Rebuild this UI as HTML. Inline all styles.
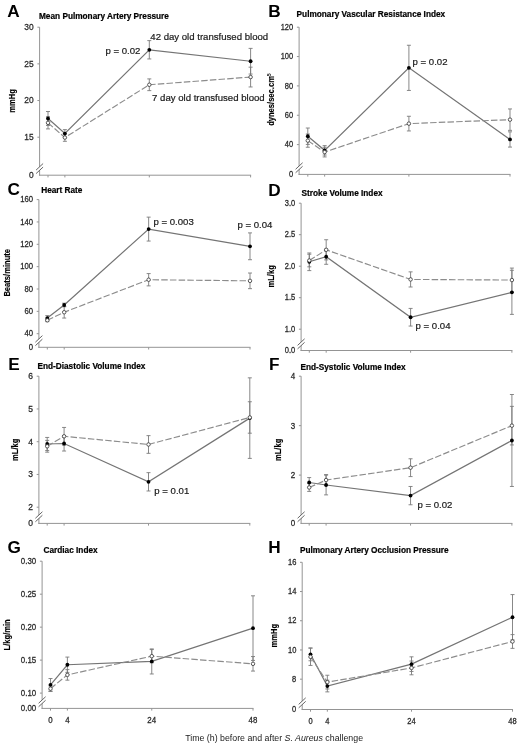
<!DOCTYPE html>
<html><head><meta charset="utf-8"><title>Figure</title>
<style>
html,body{margin:0;padding:0;background:#fff;}
body{width:520px;height:746px;overflow:hidden;}
svg{display:block;font-family:"Liberation Sans", sans-serif;will-change:transform;}
</style></head>
<body>
<svg width="520" height="746" viewBox="0 0 520 746">
<rect width="520" height="746" fill="#fff"/>
<g>
<text x="7.3" y="17.1" font-size="17.2" font-weight="bold" fill="#000">A</text>
<text x="39" y="18.5" font-size="8.25" font-weight="bold" fill="#000" stroke="#000" stroke-width="0.2">Mean Pulmonary Artery Pressure</text>
<text transform="translate(14.5,101) rotate(-90) scale(1,1.15)" text-anchor="middle" font-size="7.6" font-weight="bold" fill="#000" stroke="#000" stroke-width="0.12">mmHg</text>
<line x1="39.6" y1="27.2" x2="39.6" y2="175.7" stroke="#949494" stroke-width="1"/>
<line x1="39.1" y1="175.2" x2="251.1" y2="175.2" stroke="#949494" stroke-width="1"/>
<line x1="37.4" y1="27.2" x2="39.6" y2="27.2" stroke="#949494" stroke-width="1"/>
<text transform="translate(33.7,29.93) scale(1,1.04)" font-size="8.4" text-anchor="end" fill="#2a2a2a" stroke="#2a2a2a" stroke-width="0.25">30</text>
<line x1="37.4" y1="63.86" x2="39.6" y2="63.86" stroke="#949494" stroke-width="1"/>
<text transform="translate(33.7,66.59) scale(1,1.04)" font-size="8.4" text-anchor="end" fill="#2a2a2a" stroke="#2a2a2a" stroke-width="0.25">25</text>
<line x1="37.4" y1="100.53" x2="39.6" y2="100.53" stroke="#949494" stroke-width="1"/>
<text transform="translate(33.7,103.26) scale(1,1.04)" font-size="8.4" text-anchor="end" fill="#2a2a2a" stroke="#2a2a2a" stroke-width="0.25">20</text>
<line x1="37.4" y1="137.19" x2="39.6" y2="137.19" stroke="#949494" stroke-width="1"/>
<text transform="translate(33.7,139.92) scale(1,1.04)" font-size="8.4" text-anchor="end" fill="#2a2a2a" stroke="#2a2a2a" stroke-width="0.25">15</text>
<text transform="translate(33.7,178.03) scale(1,1.04)" font-size="8.4" text-anchor="end" fill="#2a2a2a" stroke="#2a2a2a" stroke-width="0.25">0</text>
<line x1="48" y1="175.2" x2="48" y2="177.4" stroke="#949494" stroke-width="1"/>
<line x1="64.88" y1="175.2" x2="64.88" y2="177.4" stroke="#949494" stroke-width="1"/>
<line x1="149.3" y1="175.2" x2="149.3" y2="177.4" stroke="#949494" stroke-width="1"/>
<line x1="250.6" y1="175.2" x2="250.6" y2="177.4" stroke="#949494" stroke-width="1"/>
<polygon points="36.1,170.05 43.1,163.55 43.1,167.05 36.1,173.55" fill="#fff"/>
<line x1="36.1" y1="170.05" x2="43.1" y2="163.55" stroke="#555" stroke-width="0.9"/>
<line x1="36.1" y1="173.55" x2="43.1" y2="167.05" stroke="#555" stroke-width="0.9"/>
<line x1="48" y1="111.53" x2="48" y2="125.46" stroke="#7a7a7a" stroke-width="0.9"/>
<line x1="46" y1="111.53" x2="50" y2="111.53" stroke="#7a7a7a" stroke-width="0.9"/>
<line x1="46" y1="125.46" x2="50" y2="125.46" stroke="#7a7a7a" stroke-width="0.9"/>
<line x1="64.88" y1="129.64" x2="64.88" y2="137.41" stroke="#7a7a7a" stroke-width="0.9"/>
<line x1="62.88" y1="129.64" x2="66.88" y2="129.64" stroke="#7a7a7a" stroke-width="0.9"/>
<line x1="62.88" y1="137.41" x2="66.88" y2="137.41" stroke="#7a7a7a" stroke-width="0.9"/>
<line x1="149.3" y1="40.62" x2="149.3" y2="58.95" stroke="#7a7a7a" stroke-width="0.9"/>
<line x1="147.3" y1="40.62" x2="151.3" y2="40.62" stroke="#7a7a7a" stroke-width="0.9"/>
<line x1="147.3" y1="58.95" x2="151.3" y2="58.95" stroke="#7a7a7a" stroke-width="0.9"/>
<line x1="250.6" y1="48.39" x2="250.6" y2="74.06" stroke="#7a7a7a" stroke-width="0.9"/>
<line x1="248.6" y1="48.39" x2="252.6" y2="48.39" stroke="#7a7a7a" stroke-width="0.9"/>
<line x1="248.6" y1="74.06" x2="252.6" y2="74.06" stroke="#7a7a7a" stroke-width="0.9"/>
<line x1="48" y1="116.74" x2="48" y2="128.91" stroke="#7a7a7a" stroke-width="0.9"/>
<line x1="46" y1="116.74" x2="50" y2="116.74" stroke="#7a7a7a" stroke-width="0.9"/>
<line x1="46" y1="128.91" x2="50" y2="128.91" stroke="#7a7a7a" stroke-width="0.9"/>
<line x1="64.88" y1="133.82" x2="64.88" y2="141.3" stroke="#7a7a7a" stroke-width="0.9"/>
<line x1="62.88" y1="133.82" x2="66.88" y2="133.82" stroke="#7a7a7a" stroke-width="0.9"/>
<line x1="62.88" y1="141.3" x2="66.88" y2="141.3" stroke="#7a7a7a" stroke-width="0.9"/>
<line x1="149.3" y1="78.9" x2="149.3" y2="90.63" stroke="#7a7a7a" stroke-width="0.9"/>
<line x1="147.3" y1="78.9" x2="151.3" y2="78.9" stroke="#7a7a7a" stroke-width="0.9"/>
<line x1="147.3" y1="90.63" x2="151.3" y2="90.63" stroke="#7a7a7a" stroke-width="0.9"/>
<line x1="250.6" y1="67.16" x2="250.6" y2="86.96" stroke="#7a7a7a" stroke-width="0.9"/>
<line x1="248.6" y1="67.16" x2="252.6" y2="67.16" stroke="#7a7a7a" stroke-width="0.9"/>
<line x1="248.6" y1="86.96" x2="252.6" y2="86.96" stroke="#7a7a7a" stroke-width="0.9"/>
<polyline points="48,118.5 64.88,133.53 149.3,49.79 250.6,61.23" fill="none" stroke="#747474" stroke-width="1.2"/>
<circle cx="48" cy="118.5" r="1.9" fill="#000"/>
<circle cx="64.88" cy="133.53" r="1.9" fill="#000"/>
<circle cx="149.3" cy="49.79" r="1.9" fill="#000"/>
<circle cx="250.6" cy="61.23" r="1.9" fill="#000"/>
<polyline points="48,122.82 64.88,137.56 149.3,84.76 250.6,77.06" fill="none" stroke="#8c8c8c" stroke-width="1.15" stroke-dasharray="6.5,2.2"/>
<circle cx="48" cy="122.82" r="1.75" fill="#fff" stroke="#333" stroke-width="0.8"/>
<circle cx="64.88" cy="137.56" r="1.75" fill="#fff" stroke="#333" stroke-width="0.8"/>
<circle cx="149.3" cy="84.76" r="1.75" fill="#fff" stroke="#333" stroke-width="0.8"/>
<circle cx="250.6" cy="77.06" r="1.75" fill="#fff" stroke="#333" stroke-width="0.8"/>
<text x="105.4" y="53.6" font-size="9.6" fill="#1a1a1a" stroke="#1a1a1a" stroke-width="0.2">p = 0.02</text>
<text x="150.3" y="39.8" font-size="9.6" fill="#1a1a1a" stroke="#1a1a1a" stroke-width="0.2">42 day old transfused blood</text>
<text x="152.1" y="101.1" font-size="9.6" fill="#1a1a1a" stroke="#1a1a1a" stroke-width="0.2">7 day old transfused blood</text>
</g>
<g>
<text x="268.2" y="16.6" font-size="17.2" font-weight="bold" fill="#000">B</text>
<text x="296.6" y="16.9" font-size="8.25" font-weight="bold" fill="#000" stroke="#000" stroke-width="0.2">Pulmonary Vascular Resistance Index</text>
<text transform="translate(274,101) rotate(-90) scale(1,1.15)" text-anchor="middle" font-size="7.6" font-weight="bold" fill="#000" stroke="#000" stroke-width="0.12">dynes/sec.cm</text>
<line x1="299.1" y1="27.2" x2="299.1" y2="174.9" stroke="#949494" stroke-width="1"/>
<line x1="298.6" y1="174.4" x2="510.5" y2="174.4" stroke="#949494" stroke-width="1"/>
<line x1="296.9" y1="27.2" x2="299.1" y2="27.2" stroke="#949494" stroke-width="1"/>
<text transform="translate(293.2,29.91) scale(1,1.16)" font-size="7.5" text-anchor="end" fill="#2a2a2a" stroke="#2a2a2a" stroke-width="0.25">120</text>
<line x1="296.9" y1="56.55" x2="299.1" y2="56.55" stroke="#949494" stroke-width="1"/>
<text transform="translate(293.2,59.26) scale(1,1.16)" font-size="7.5" text-anchor="end" fill="#2a2a2a" stroke="#2a2a2a" stroke-width="0.25">100</text>
<line x1="296.9" y1="85.9" x2="299.1" y2="85.9" stroke="#949494" stroke-width="1"/>
<text transform="translate(293.2,88.61) scale(1,1.16)" font-size="7.5" text-anchor="end" fill="#2a2a2a" stroke="#2a2a2a" stroke-width="0.25">80</text>
<line x1="296.9" y1="115.25" x2="299.1" y2="115.25" stroke="#949494" stroke-width="1"/>
<text transform="translate(293.2,117.96) scale(1,1.16)" font-size="7.5" text-anchor="end" fill="#2a2a2a" stroke="#2a2a2a" stroke-width="0.25">60</text>
<line x1="296.9" y1="144.6" x2="299.1" y2="144.6" stroke="#949494" stroke-width="1"/>
<text transform="translate(293.2,147.31) scale(1,1.16)" font-size="7.5" text-anchor="end" fill="#2a2a2a" stroke="#2a2a2a" stroke-width="0.25">40</text>
<text transform="translate(293.2,177.21) scale(1,1.16)" font-size="7.5" text-anchor="end" fill="#2a2a2a" stroke="#2a2a2a" stroke-width="0.25">0</text>
<line x1="307.8" y1="174.4" x2="307.8" y2="176.6" stroke="#949494" stroke-width="1"/>
<line x1="324.65" y1="174.4" x2="324.65" y2="176.6" stroke="#949494" stroke-width="1"/>
<line x1="408.9" y1="174.4" x2="408.9" y2="176.6" stroke="#949494" stroke-width="1"/>
<line x1="510" y1="174.4" x2="510" y2="176.6" stroke="#949494" stroke-width="1"/>
<polygon points="295.6,169.25 302.6,162.75 302.6,166.25 295.6,172.75" fill="#fff"/>
<line x1="295.6" y1="169.25" x2="302.6" y2="162.75" stroke="#555" stroke-width="0.9"/>
<line x1="295.6" y1="172.75" x2="302.6" y2="166.25" stroke="#555" stroke-width="0.9"/>
<line x1="307.8" y1="128.02" x2="307.8" y2="144.45" stroke="#7a7a7a" stroke-width="0.9"/>
<line x1="305.8" y1="128.02" x2="309.8" y2="128.02" stroke="#7a7a7a" stroke-width="0.9"/>
<line x1="305.8" y1="144.45" x2="309.8" y2="144.45" stroke="#7a7a7a" stroke-width="0.9"/>
<line x1="324.65" y1="145.63" x2="324.65" y2="155.02" stroke="#7a7a7a" stroke-width="0.9"/>
<line x1="322.65" y1="145.63" x2="326.65" y2="145.63" stroke="#7a7a7a" stroke-width="0.9"/>
<line x1="322.65" y1="155.02" x2="326.65" y2="155.02" stroke="#7a7a7a" stroke-width="0.9"/>
<line x1="408.9" y1="45.25" x2="408.9" y2="90.45" stroke="#7a7a7a" stroke-width="0.9"/>
<line x1="406.9" y1="45.25" x2="410.9" y2="45.25" stroke="#7a7a7a" stroke-width="0.9"/>
<line x1="406.9" y1="90.45" x2="410.9" y2="90.45" stroke="#7a7a7a" stroke-width="0.9"/>
<line x1="510" y1="131.83" x2="510" y2="147.09" stroke="#7a7a7a" stroke-width="0.9"/>
<line x1="508" y1="131.83" x2="512" y2="131.83" stroke="#7a7a7a" stroke-width="0.9"/>
<line x1="508" y1="147.09" x2="512" y2="147.09" stroke="#7a7a7a" stroke-width="0.9"/>
<line x1="307.8" y1="134.03" x2="307.8" y2="147.24" stroke="#7a7a7a" stroke-width="0.9"/>
<line x1="305.8" y1="134.03" x2="309.8" y2="134.03" stroke="#7a7a7a" stroke-width="0.9"/>
<line x1="305.8" y1="147.24" x2="309.8" y2="147.24" stroke="#7a7a7a" stroke-width="0.9"/>
<line x1="324.65" y1="147.24" x2="324.65" y2="156.93" stroke="#7a7a7a" stroke-width="0.9"/>
<line x1="322.65" y1="147.24" x2="326.65" y2="147.24" stroke="#7a7a7a" stroke-width="0.9"/>
<line x1="322.65" y1="156.93" x2="326.65" y2="156.93" stroke="#7a7a7a" stroke-width="0.9"/>
<line x1="408.9" y1="116.28" x2="408.9" y2="130.95" stroke="#7a7a7a" stroke-width="0.9"/>
<line x1="406.9" y1="116.28" x2="410.9" y2="116.28" stroke="#7a7a7a" stroke-width="0.9"/>
<line x1="406.9" y1="130.95" x2="410.9" y2="130.95" stroke="#7a7a7a" stroke-width="0.9"/>
<line x1="510" y1="108.94" x2="510" y2="130.37" stroke="#7a7a7a" stroke-width="0.9"/>
<line x1="508" y1="108.94" x2="512" y2="108.94" stroke="#7a7a7a" stroke-width="0.9"/>
<line x1="508" y1="130.37" x2="512" y2="130.37" stroke="#7a7a7a" stroke-width="0.9"/>
<polyline points="307.8,136.24 324.65,150.32 408.9,67.85 510,139.46" fill="none" stroke="#747474" stroke-width="1.2"/>
<circle cx="307.8" cy="136.24" r="1.9" fill="#000"/>
<circle cx="324.65" cy="150.32" r="1.9" fill="#000"/>
<circle cx="408.9" cy="67.85" r="1.9" fill="#000"/>
<circle cx="510" cy="139.46" r="1.9" fill="#000"/>
<polyline points="307.8,140.64 324.65,152.08 408.9,123.61 510,119.65" fill="none" stroke="#8c8c8c" stroke-width="1.15" stroke-dasharray="6.5,2.2"/>
<circle cx="307.8" cy="140.64" r="1.75" fill="#fff" stroke="#333" stroke-width="0.8"/>
<circle cx="324.65" cy="152.08" r="1.75" fill="#fff" stroke="#333" stroke-width="0.8"/>
<circle cx="408.9" cy="123.61" r="1.75" fill="#fff" stroke="#333" stroke-width="0.8"/>
<circle cx="510" cy="119.65" r="1.75" fill="#fff" stroke="#333" stroke-width="0.8"/>
<text x="412.6" y="65.1" font-size="9.6" fill="#1a1a1a" stroke="#1a1a1a" stroke-width="0.2">p = 0.02</text>
</g>
<g>
<text x="7.6" y="195.4" font-size="17.2" font-weight="bold" fill="#000">C</text>
<text x="41.2" y="193" font-size="8.25" font-weight="bold" fill="#000" stroke="#000" stroke-width="0.2">Heart Rate</text>
<text transform="translate(10.1,272.8) rotate(-90) scale(1,1.15)" text-anchor="middle" font-size="7.6" font-weight="bold" fill="#000" stroke="#000" stroke-width="0.12">Beats/minute</text>
<line x1="38.9" y1="199.6" x2="38.9" y2="347.8" stroke="#949494" stroke-width="1"/>
<line x1="38.4" y1="347.3" x2="250.5" y2="347.3" stroke="#949494" stroke-width="1"/>
<line x1="36.7" y1="199.6" x2="38.9" y2="199.6" stroke="#949494" stroke-width="1"/>
<text transform="translate(33,202.34) scale(1,1.14)" font-size="7.7" text-anchor="end" fill="#2a2a2a" stroke="#2a2a2a" stroke-width="0.25">160</text>
<line x1="36.7" y1="221.95" x2="38.9" y2="221.95" stroke="#949494" stroke-width="1"/>
<text transform="translate(33,224.69) scale(1,1.14)" font-size="7.7" text-anchor="end" fill="#2a2a2a" stroke="#2a2a2a" stroke-width="0.25">140</text>
<line x1="36.7" y1="244.3" x2="38.9" y2="244.3" stroke="#949494" stroke-width="1"/>
<text transform="translate(33,247.04) scale(1,1.14)" font-size="7.7" text-anchor="end" fill="#2a2a2a" stroke="#2a2a2a" stroke-width="0.25">120</text>
<line x1="36.7" y1="266.65" x2="38.9" y2="266.65" stroke="#949494" stroke-width="1"/>
<text transform="translate(33,269.39) scale(1,1.14)" font-size="7.7" text-anchor="end" fill="#2a2a2a" stroke="#2a2a2a" stroke-width="0.25">100</text>
<line x1="36.7" y1="289" x2="38.9" y2="289" stroke="#949494" stroke-width="1"/>
<text transform="translate(33,291.74) scale(1,1.14)" font-size="7.7" text-anchor="end" fill="#2a2a2a" stroke="#2a2a2a" stroke-width="0.25">80</text>
<line x1="36.7" y1="311.35" x2="38.9" y2="311.35" stroke="#949494" stroke-width="1"/>
<text transform="translate(33,314.09) scale(1,1.14)" font-size="7.7" text-anchor="end" fill="#2a2a2a" stroke="#2a2a2a" stroke-width="0.25">60</text>
<line x1="36.7" y1="333.7" x2="38.9" y2="333.7" stroke="#949494" stroke-width="1"/>
<text transform="translate(33,336.44) scale(1,1.14)" font-size="7.7" text-anchor="end" fill="#2a2a2a" stroke="#2a2a2a" stroke-width="0.25">40</text>
<text transform="translate(33,350.14) scale(1,1.14)" font-size="7.7" text-anchor="end" fill="#2a2a2a" stroke="#2a2a2a" stroke-width="0.25">0</text>
<line x1="47.3" y1="347.3" x2="47.3" y2="349.5" stroke="#949494" stroke-width="1"/>
<line x1="64.19" y1="347.3" x2="64.19" y2="349.5" stroke="#949494" stroke-width="1"/>
<line x1="148.65" y1="347.3" x2="148.65" y2="349.5" stroke="#949494" stroke-width="1"/>
<line x1="250" y1="347.3" x2="250" y2="349.5" stroke="#949494" stroke-width="1"/>
<polygon points="35.4,342.15 42.4,335.65 42.4,339.15 35.4,345.65" fill="#fff"/>
<line x1="35.4" y1="342.15" x2="42.4" y2="335.65" stroke="#555" stroke-width="0.9"/>
<line x1="35.4" y1="345.65" x2="42.4" y2="339.15" stroke="#555" stroke-width="0.9"/>
<line x1="47.3" y1="315.6" x2="47.3" y2="320.51" stroke="#7a7a7a" stroke-width="0.9"/>
<line x1="45.3" y1="315.6" x2="49.3" y2="315.6" stroke="#7a7a7a" stroke-width="0.9"/>
<line x1="45.3" y1="320.51" x2="49.3" y2="320.51" stroke="#7a7a7a" stroke-width="0.9"/>
<line x1="64.19" y1="303.19" x2="64.19" y2="306.77" stroke="#7a7a7a" stroke-width="0.9"/>
<line x1="62.19" y1="303.19" x2="66.19" y2="303.19" stroke="#7a7a7a" stroke-width="0.9"/>
<line x1="62.19" y1="306.77" x2="66.19" y2="306.77" stroke="#7a7a7a" stroke-width="0.9"/>
<line x1="148.65" y1="217.14" x2="148.65" y2="241.06" stroke="#7a7a7a" stroke-width="0.9"/>
<line x1="146.65" y1="217.14" x2="150.65" y2="217.14" stroke="#7a7a7a" stroke-width="0.9"/>
<line x1="146.65" y1="241.06" x2="150.65" y2="241.06" stroke="#7a7a7a" stroke-width="0.9"/>
<line x1="250" y1="232.9" x2="250" y2="259.72" stroke="#7a7a7a" stroke-width="0.9"/>
<line x1="248" y1="232.9" x2="252" y2="232.9" stroke="#7a7a7a" stroke-width="0.9"/>
<line x1="248" y1="259.72" x2="252" y2="259.72" stroke="#7a7a7a" stroke-width="0.9"/>
<line x1="47.3" y1="318.95" x2="47.3" y2="321.63" stroke="#7a7a7a" stroke-width="0.9"/>
<line x1="45.3" y1="318.95" x2="49.3" y2="318.95" stroke="#7a7a7a" stroke-width="0.9"/>
<line x1="45.3" y1="321.63" x2="49.3" y2="321.63" stroke="#7a7a7a" stroke-width="0.9"/>
<line x1="64.19" y1="306.43" x2="64.19" y2="318.06" stroke="#7a7a7a" stroke-width="0.9"/>
<line x1="62.19" y1="306.43" x2="66.19" y2="306.43" stroke="#7a7a7a" stroke-width="0.9"/>
<line x1="62.19" y1="318.06" x2="66.19" y2="318.06" stroke="#7a7a7a" stroke-width="0.9"/>
<line x1="148.65" y1="273.58" x2="148.65" y2="285.87" stroke="#7a7a7a" stroke-width="0.9"/>
<line x1="146.65" y1="273.58" x2="150.65" y2="273.58" stroke="#7a7a7a" stroke-width="0.9"/>
<line x1="146.65" y1="285.87" x2="150.65" y2="285.87" stroke="#7a7a7a" stroke-width="0.9"/>
<line x1="250" y1="273.02" x2="250" y2="288.66" stroke="#7a7a7a" stroke-width="0.9"/>
<line x1="248" y1="273.02" x2="252" y2="273.02" stroke="#7a7a7a" stroke-width="0.9"/>
<line x1="248" y1="288.66" x2="252" y2="288.66" stroke="#7a7a7a" stroke-width="0.9"/>
<polyline points="47.3,318.06 64.19,304.98 148.65,229.1 250,246.31" fill="none" stroke="#747474" stroke-width="1.2"/>
<circle cx="47.3" cy="318.06" r="1.9" fill="#000"/>
<circle cx="64.19" cy="304.98" r="1.9" fill="#000"/>
<circle cx="148.65" cy="229.1" r="1.9" fill="#000"/>
<circle cx="250" cy="246.31" r="1.9" fill="#000"/>
<polyline points="47.3,320.29 64.19,312.24 148.65,279.72 250,280.84" fill="none" stroke="#8c8c8c" stroke-width="1.15" stroke-dasharray="6.5,2.2"/>
<circle cx="47.3" cy="320.29" r="1.75" fill="#fff" stroke="#333" stroke-width="0.8"/>
<circle cx="64.19" cy="312.24" r="1.75" fill="#fff" stroke="#333" stroke-width="0.8"/>
<circle cx="148.65" cy="279.72" r="1.75" fill="#fff" stroke="#333" stroke-width="0.8"/>
<circle cx="250" cy="280.84" r="1.75" fill="#fff" stroke="#333" stroke-width="0.8"/>
<text x="153.5" y="225.1" font-size="9.6" fill="#1a1a1a" stroke="#1a1a1a" stroke-width="0.2">p = 0.003</text>
<text x="237.5" y="228.3" font-size="9.6" fill="#1a1a1a" stroke="#1a1a1a" stroke-width="0.2">p = 0.04</text>
</g>
<g>
<text x="268.2" y="195.8" font-size="17.2" font-weight="bold" fill="#000">D</text>
<text x="301.6" y="196" font-size="8.25" font-weight="bold" fill="#000" stroke="#000" stroke-width="0.2">Stroke Volume Index</text>
<text transform="translate(273.8,276.4) rotate(-90) scale(1,1.15)" text-anchor="middle" font-size="7.6" font-weight="bold" fill="#000" stroke="#000" stroke-width="0.12">mL/kg</text>
<line x1="301.1" y1="203.2" x2="301.1" y2="351" stroke="#949494" stroke-width="1"/>
<line x1="300.6" y1="350.5" x2="512.4" y2="350.5" stroke="#949494" stroke-width="1"/>
<line x1="298.9" y1="203.2" x2="301.1" y2="203.2" stroke="#949494" stroke-width="1"/>
<text transform="translate(295.2,205.91) scale(1,1.16)" font-size="7.5" text-anchor="end" fill="#2a2a2a" stroke="#2a2a2a" stroke-width="0.25">3.0</text>
<line x1="298.9" y1="234.7" x2="301.1" y2="234.7" stroke="#949494" stroke-width="1"/>
<text transform="translate(295.2,237.41) scale(1,1.16)" font-size="7.5" text-anchor="end" fill="#2a2a2a" stroke="#2a2a2a" stroke-width="0.25">2.5</text>
<line x1="298.9" y1="266.2" x2="301.1" y2="266.2" stroke="#949494" stroke-width="1"/>
<text transform="translate(295.2,268.91) scale(1,1.16)" font-size="7.5" text-anchor="end" fill="#2a2a2a" stroke="#2a2a2a" stroke-width="0.25">2.0</text>
<line x1="298.9" y1="297.7" x2="301.1" y2="297.7" stroke="#949494" stroke-width="1"/>
<text transform="translate(295.2,300.41) scale(1,1.16)" font-size="7.5" text-anchor="end" fill="#2a2a2a" stroke="#2a2a2a" stroke-width="0.25">1.5</text>
<line x1="298.9" y1="329.2" x2="301.1" y2="329.2" stroke="#949494" stroke-width="1"/>
<text transform="translate(295.2,331.91) scale(1,1.16)" font-size="7.5" text-anchor="end" fill="#2a2a2a" stroke="#2a2a2a" stroke-width="0.25">1.0</text>
<text transform="translate(295.2,353.31) scale(1,1.16)" font-size="7.5" text-anchor="end" fill="#2a2a2a" stroke="#2a2a2a" stroke-width="0.25">0.0</text>
<line x1="309.3" y1="350.5" x2="309.3" y2="352.7" stroke="#949494" stroke-width="1"/>
<line x1="326.18" y1="350.5" x2="326.18" y2="352.7" stroke="#949494" stroke-width="1"/>
<line x1="410.6" y1="350.5" x2="410.6" y2="352.7" stroke="#949494" stroke-width="1"/>
<line x1="511.9" y1="350.5" x2="511.9" y2="352.7" stroke="#949494" stroke-width="1"/>
<polygon points="297.6,345.35 304.6,338.85 304.6,342.35 297.6,348.85" fill="#fff"/>
<line x1="297.6" y1="345.35" x2="304.6" y2="338.85" stroke="#555" stroke-width="0.9"/>
<line x1="297.6" y1="348.85" x2="304.6" y2="342.35" stroke="#555" stroke-width="0.9"/>
<line x1="309.3" y1="252.97" x2="309.3" y2="270.61" stroke="#7a7a7a" stroke-width="0.9"/>
<line x1="307.3" y1="252.97" x2="311.3" y2="252.97" stroke="#7a7a7a" stroke-width="0.9"/>
<line x1="307.3" y1="270.61" x2="311.3" y2="270.61" stroke="#7a7a7a" stroke-width="0.9"/>
<line x1="326.18" y1="249.19" x2="326.18" y2="264.31" stroke="#7a7a7a" stroke-width="0.9"/>
<line x1="324.18" y1="249.19" x2="328.18" y2="249.19" stroke="#7a7a7a" stroke-width="0.9"/>
<line x1="324.18" y1="264.31" x2="328.18" y2="264.31" stroke="#7a7a7a" stroke-width="0.9"/>
<line x1="410.6" y1="308.41" x2="410.6" y2="326.05" stroke="#7a7a7a" stroke-width="0.9"/>
<line x1="408.6" y1="308.41" x2="412.6" y2="308.41" stroke="#7a7a7a" stroke-width="0.9"/>
<line x1="408.6" y1="326.05" x2="412.6" y2="326.05" stroke="#7a7a7a" stroke-width="0.9"/>
<line x1="511.9" y1="270.29" x2="511.9" y2="314.39" stroke="#7a7a7a" stroke-width="0.9"/>
<line x1="509.9" y1="270.29" x2="513.9" y2="270.29" stroke="#7a7a7a" stroke-width="0.9"/>
<line x1="509.9" y1="314.39" x2="513.9" y2="314.39" stroke="#7a7a7a" stroke-width="0.9"/>
<line x1="309.3" y1="254.23" x2="309.3" y2="266.83" stroke="#7a7a7a" stroke-width="0.9"/>
<line x1="307.3" y1="254.23" x2="311.3" y2="254.23" stroke="#7a7a7a" stroke-width="0.9"/>
<line x1="307.3" y1="266.83" x2="311.3" y2="266.83" stroke="#7a7a7a" stroke-width="0.9"/>
<line x1="326.18" y1="239.74" x2="326.18" y2="259.9" stroke="#7a7a7a" stroke-width="0.9"/>
<line x1="324.18" y1="239.74" x2="328.18" y2="239.74" stroke="#7a7a7a" stroke-width="0.9"/>
<line x1="324.18" y1="259.9" x2="328.18" y2="259.9" stroke="#7a7a7a" stroke-width="0.9"/>
<line x1="410.6" y1="271.87" x2="410.6" y2="286.99" stroke="#7a7a7a" stroke-width="0.9"/>
<line x1="408.6" y1="271.87" x2="412.6" y2="271.87" stroke="#7a7a7a" stroke-width="0.9"/>
<line x1="408.6" y1="286.99" x2="412.6" y2="286.99" stroke="#7a7a7a" stroke-width="0.9"/>
<line x1="511.9" y1="268.09" x2="511.9" y2="292.03" stroke="#7a7a7a" stroke-width="0.9"/>
<line x1="509.9" y1="268.09" x2="513.9" y2="268.09" stroke="#7a7a7a" stroke-width="0.9"/>
<line x1="509.9" y1="292.03" x2="513.9" y2="292.03" stroke="#7a7a7a" stroke-width="0.9"/>
<polyline points="309.3,261.79 326.18,256.75 410.6,317.23 511.9,292.34" fill="none" stroke="#747474" stroke-width="1.2"/>
<circle cx="309.3" cy="261.79" r="1.9" fill="#000"/>
<circle cx="326.18" cy="256.75" r="1.9" fill="#000"/>
<circle cx="410.6" cy="317.23" r="1.9" fill="#000"/>
<circle cx="511.9" cy="292.34" r="1.9" fill="#000"/>
<polyline points="309.3,260.53 326.18,249.82 410.6,279.43 511.9,280.06" fill="none" stroke="#8c8c8c" stroke-width="1.15" stroke-dasharray="6.5,2.2"/>
<circle cx="309.3" cy="260.53" r="1.75" fill="#fff" stroke="#333" stroke-width="0.8"/>
<circle cx="326.18" cy="249.82" r="1.75" fill="#fff" stroke="#333" stroke-width="0.8"/>
<circle cx="410.6" cy="279.43" r="1.75" fill="#fff" stroke="#333" stroke-width="0.8"/>
<circle cx="511.9" cy="280.06" r="1.75" fill="#fff" stroke="#333" stroke-width="0.8"/>
<text x="415.6" y="328.6" font-size="9.6" fill="#1a1a1a" stroke="#1a1a1a" stroke-width="0.2">p = 0.04</text>
</g>
<g>
<text x="8.3" y="369.5" font-size="17.2" font-weight="bold" fill="#000">E</text>
<text x="37.4" y="369.1" font-size="8.25" font-weight="bold" fill="#000" stroke="#000" stroke-width="0.2">End-Diastolic Volume Index</text>
<text transform="translate(18.25,449.75) rotate(-90) scale(1,1.15)" text-anchor="middle" font-size="7.6" font-weight="bold" fill="#000" stroke="#000" stroke-width="0.12">mL/kg</text>
<line x1="38.9" y1="376.2" x2="38.9" y2="523.9" stroke="#949494" stroke-width="1"/>
<line x1="38.4" y1="523.4" x2="250.3" y2="523.4" stroke="#949494" stroke-width="1"/>
<line x1="36.7" y1="376.2" x2="38.9" y2="376.2" stroke="#949494" stroke-width="1"/>
<text transform="translate(33,379.03) scale(1,1.06)" font-size="8.5" text-anchor="end" fill="#2a2a2a" stroke="#2a2a2a" stroke-width="0.25">6</text>
<line x1="36.7" y1="408.95" x2="38.9" y2="408.95" stroke="#949494" stroke-width="1"/>
<text transform="translate(33,411.78) scale(1,1.06)" font-size="8.5" text-anchor="end" fill="#2a2a2a" stroke="#2a2a2a" stroke-width="0.25">5</text>
<line x1="36.7" y1="441.7" x2="38.9" y2="441.7" stroke="#949494" stroke-width="1"/>
<text transform="translate(33,444.53) scale(1,1.06)" font-size="8.5" text-anchor="end" fill="#2a2a2a" stroke="#2a2a2a" stroke-width="0.25">4</text>
<line x1="36.7" y1="474.45" x2="38.9" y2="474.45" stroke="#949494" stroke-width="1"/>
<text transform="translate(33,477.28) scale(1,1.06)" font-size="8.5" text-anchor="end" fill="#2a2a2a" stroke="#2a2a2a" stroke-width="0.25">3</text>
<line x1="36.7" y1="507.2" x2="38.9" y2="507.2" stroke="#949494" stroke-width="1"/>
<text transform="translate(33,510.03) scale(1,1.06)" font-size="8.5" text-anchor="end" fill="#2a2a2a" stroke="#2a2a2a" stroke-width="0.25">2</text>
<text transform="translate(33,526.33) scale(1,1.06)" font-size="8.5" text-anchor="end" fill="#2a2a2a" stroke="#2a2a2a" stroke-width="0.25">0</text>
<line x1="47.2" y1="523.4" x2="47.2" y2="525.6" stroke="#949494" stroke-width="1"/>
<line x1="64.08" y1="523.4" x2="64.08" y2="525.6" stroke="#949494" stroke-width="1"/>
<line x1="148.5" y1="523.4" x2="148.5" y2="525.6" stroke="#949494" stroke-width="1"/>
<line x1="249.8" y1="523.4" x2="249.8" y2="525.6" stroke="#949494" stroke-width="1"/>
<polygon points="35.4,518.25 42.4,511.75 42.4,515.25 35.4,521.75" fill="#fff"/>
<line x1="35.4" y1="518.25" x2="42.4" y2="511.75" stroke="#555" stroke-width="0.9"/>
<line x1="35.4" y1="521.75" x2="42.4" y2="515.25" stroke="#555" stroke-width="0.9"/>
<line x1="47.2" y1="437.44" x2="47.2" y2="450.54" stroke="#7a7a7a" stroke-width="0.9"/>
<line x1="45.2" y1="437.44" x2="49.2" y2="437.44" stroke="#7a7a7a" stroke-width="0.9"/>
<line x1="45.2" y1="450.54" x2="49.2" y2="450.54" stroke="#7a7a7a" stroke-width="0.9"/>
<line x1="64.08" y1="435.97" x2="64.08" y2="451.03" stroke="#7a7a7a" stroke-width="0.9"/>
<line x1="62.08" y1="435.97" x2="66.08" y2="435.97" stroke="#7a7a7a" stroke-width="0.9"/>
<line x1="62.08" y1="451.03" x2="66.08" y2="451.03" stroke="#7a7a7a" stroke-width="0.9"/>
<line x1="148.5" y1="472.65" x2="148.5" y2="490.99" stroke="#7a7a7a" stroke-width="0.9"/>
<line x1="146.5" y1="472.65" x2="150.5" y2="472.65" stroke="#7a7a7a" stroke-width="0.9"/>
<line x1="146.5" y1="490.99" x2="150.5" y2="490.99" stroke="#7a7a7a" stroke-width="0.9"/>
<line x1="249.8" y1="377.84" x2="249.8" y2="458.4" stroke="#7a7a7a" stroke-width="0.9"/>
<line x1="247.8" y1="377.84" x2="251.8" y2="377.84" stroke="#7a7a7a" stroke-width="0.9"/>
<line x1="247.8" y1="458.4" x2="251.8" y2="458.4" stroke="#7a7a7a" stroke-width="0.9"/>
<line x1="47.2" y1="440.39" x2="47.2" y2="452.18" stroke="#7a7a7a" stroke-width="0.9"/>
<line x1="45.2" y1="440.39" x2="49.2" y2="440.39" stroke="#7a7a7a" stroke-width="0.9"/>
<line x1="45.2" y1="452.18" x2="49.2" y2="452.18" stroke="#7a7a7a" stroke-width="0.9"/>
<line x1="64.08" y1="427.45" x2="64.08" y2="445.14" stroke="#7a7a7a" stroke-width="0.9"/>
<line x1="62.08" y1="427.45" x2="66.08" y2="427.45" stroke="#7a7a7a" stroke-width="0.9"/>
<line x1="62.08" y1="445.14" x2="66.08" y2="445.14" stroke="#7a7a7a" stroke-width="0.9"/>
<line x1="148.5" y1="435.64" x2="148.5" y2="453.33" stroke="#7a7a7a" stroke-width="0.9"/>
<line x1="146.5" y1="435.64" x2="150.5" y2="435.64" stroke="#7a7a7a" stroke-width="0.9"/>
<line x1="146.5" y1="453.33" x2="150.5" y2="453.33" stroke="#7a7a7a" stroke-width="0.9"/>
<line x1="249.8" y1="401.74" x2="249.8" y2="433.19" stroke="#7a7a7a" stroke-width="0.9"/>
<line x1="247.8" y1="401.74" x2="251.8" y2="401.74" stroke="#7a7a7a" stroke-width="0.9"/>
<line x1="247.8" y1="433.19" x2="251.8" y2="433.19" stroke="#7a7a7a" stroke-width="0.9"/>
<polyline points="47.2,443.99 64.08,443.5 148.5,481.82 249.8,418.12" fill="none" stroke="#747474" stroke-width="1.2"/>
<circle cx="47.2" cy="443.99" r="1.9" fill="#000"/>
<circle cx="64.08" cy="443.5" r="1.9" fill="#000"/>
<circle cx="148.5" cy="481.82" r="1.9" fill="#000"/>
<circle cx="249.8" cy="418.12" r="1.9" fill="#000"/>
<polyline points="47.2,446.28 64.08,436.3 148.5,444.48 249.8,417.46" fill="none" stroke="#8c8c8c" stroke-width="1.15" stroke-dasharray="6.5,2.2"/>
<circle cx="47.2" cy="446.28" r="1.75" fill="#fff" stroke="#333" stroke-width="0.8"/>
<circle cx="64.08" cy="436.3" r="1.75" fill="#fff" stroke="#333" stroke-width="0.8"/>
<circle cx="148.5" cy="444.48" r="1.75" fill="#fff" stroke="#333" stroke-width="0.8"/>
<circle cx="249.8" cy="417.46" r="1.75" fill="#fff" stroke="#333" stroke-width="0.8"/>
<text x="154.3" y="493.6" font-size="9.6" fill="#1a1a1a" stroke="#1a1a1a" stroke-width="0.2">p = 0.01</text>
</g>
<g>
<text x="269.1" y="369.5" font-size="17.2" font-weight="bold" fill="#000">F</text>
<text x="300.4" y="369.9" font-size="8.25" font-weight="bold" fill="#000" stroke="#000" stroke-width="0.2">End-Systolic Volume Index</text>
<text transform="translate(280.5,449.9) rotate(-90) scale(1,1.15)" text-anchor="middle" font-size="7.6" font-weight="bold" fill="#000" stroke="#000" stroke-width="0.12">mL/kg</text>
<line x1="301.1" y1="376.2" x2="301.1" y2="523.9" stroke="#949494" stroke-width="1"/>
<line x1="300.6" y1="523.4" x2="512.4" y2="523.4" stroke="#949494" stroke-width="1"/>
<line x1="298.9" y1="376.2" x2="301.1" y2="376.2" stroke="#949494" stroke-width="1"/>
<text transform="translate(295.2,379.18) scale(1,1.18)" font-size="8.0" text-anchor="end" fill="#2a2a2a" stroke="#2a2a2a" stroke-width="0.25">4</text>
<line x1="298.9" y1="425.65" x2="301.1" y2="425.65" stroke="#949494" stroke-width="1"/>
<text transform="translate(295.2,428.63) scale(1,1.18)" font-size="8.0" text-anchor="end" fill="#2a2a2a" stroke="#2a2a2a" stroke-width="0.25">3</text>
<line x1="298.9" y1="475.1" x2="301.1" y2="475.1" stroke="#949494" stroke-width="1"/>
<text transform="translate(295.2,478.08) scale(1,1.18)" font-size="8.0" text-anchor="end" fill="#2a2a2a" stroke="#2a2a2a" stroke-width="0.25">2</text>
<text transform="translate(295.2,526.48) scale(1,1.18)" font-size="8.0" text-anchor="end" fill="#2a2a2a" stroke="#2a2a2a" stroke-width="0.25">0</text>
<line x1="309.2" y1="523.4" x2="309.2" y2="525.6" stroke="#949494" stroke-width="1"/>
<line x1="326.09" y1="523.4" x2="326.09" y2="525.6" stroke="#949494" stroke-width="1"/>
<line x1="410.55" y1="523.4" x2="410.55" y2="525.6" stroke="#949494" stroke-width="1"/>
<line x1="511.9" y1="523.4" x2="511.9" y2="525.6" stroke="#949494" stroke-width="1"/>
<polygon points="297.6,518.25 304.6,511.75 304.6,515.25 297.6,521.75" fill="#fff"/>
<line x1="297.6" y1="518.25" x2="304.6" y2="511.75" stroke="#555" stroke-width="0.9"/>
<line x1="297.6" y1="521.75" x2="304.6" y2="515.25" stroke="#555" stroke-width="0.9"/>
<line x1="309.2" y1="477.57" x2="309.2" y2="487.46" stroke="#7a7a7a" stroke-width="0.9"/>
<line x1="307.2" y1="477.57" x2="311.2" y2="477.57" stroke="#7a7a7a" stroke-width="0.9"/>
<line x1="307.2" y1="487.46" x2="311.2" y2="487.46" stroke="#7a7a7a" stroke-width="0.9"/>
<line x1="326.09" y1="475.1" x2="326.09" y2="494.88" stroke="#7a7a7a" stroke-width="0.9"/>
<line x1="324.09" y1="475.1" x2="328.09" y2="475.1" stroke="#7a7a7a" stroke-width="0.9"/>
<line x1="324.09" y1="494.88" x2="328.09" y2="494.88" stroke="#7a7a7a" stroke-width="0.9"/>
<line x1="410.55" y1="486.47" x2="410.55" y2="504.77" stroke="#7a7a7a" stroke-width="0.9"/>
<line x1="408.55" y1="486.47" x2="412.55" y2="486.47" stroke="#7a7a7a" stroke-width="0.9"/>
<line x1="408.55" y1="504.77" x2="412.55" y2="504.77" stroke="#7a7a7a" stroke-width="0.9"/>
<line x1="511.9" y1="394.5" x2="511.9" y2="486.47" stroke="#7a7a7a" stroke-width="0.9"/>
<line x1="509.9" y1="394.5" x2="513.9" y2="394.5" stroke="#7a7a7a" stroke-width="0.9"/>
<line x1="509.9" y1="486.47" x2="513.9" y2="486.47" stroke="#7a7a7a" stroke-width="0.9"/>
<line x1="309.2" y1="483.51" x2="309.2" y2="491.42" stroke="#7a7a7a" stroke-width="0.9"/>
<line x1="307.2" y1="483.51" x2="311.2" y2="483.51" stroke="#7a7a7a" stroke-width="0.9"/>
<line x1="307.2" y1="491.42" x2="311.2" y2="491.42" stroke="#7a7a7a" stroke-width="0.9"/>
<line x1="326.09" y1="474.61" x2="326.09" y2="485.48" stroke="#7a7a7a" stroke-width="0.9"/>
<line x1="324.09" y1="474.61" x2="328.09" y2="474.61" stroke="#7a7a7a" stroke-width="0.9"/>
<line x1="324.09" y1="485.48" x2="328.09" y2="485.48" stroke="#7a7a7a" stroke-width="0.9"/>
<line x1="410.55" y1="458.78" x2="410.55" y2="476.58" stroke="#7a7a7a" stroke-width="0.9"/>
<line x1="408.55" y1="458.78" x2="412.55" y2="458.78" stroke="#7a7a7a" stroke-width="0.9"/>
<line x1="408.55" y1="476.58" x2="412.55" y2="476.58" stroke="#7a7a7a" stroke-width="0.9"/>
<line x1="511.9" y1="406.36" x2="511.9" y2="444.94" stroke="#7a7a7a" stroke-width="0.9"/>
<line x1="509.9" y1="406.36" x2="513.9" y2="406.36" stroke="#7a7a7a" stroke-width="0.9"/>
<line x1="509.9" y1="444.94" x2="513.9" y2="444.94" stroke="#7a7a7a" stroke-width="0.9"/>
<polyline points="309.2,482.52 326.09,484.99 410.55,495.62 511.9,440.49" fill="none" stroke="#747474" stroke-width="1.2"/>
<circle cx="309.2" cy="482.52" r="1.9" fill="#000"/>
<circle cx="326.09" cy="484.99" r="1.9" fill="#000"/>
<circle cx="410.55" cy="495.62" r="1.9" fill="#000"/>
<circle cx="511.9" cy="440.49" r="1.9" fill="#000"/>
<polyline points="309.2,487.46 326.09,480.05 410.55,467.68 511.9,425.65" fill="none" stroke="#8c8c8c" stroke-width="1.15" stroke-dasharray="6.5,2.2"/>
<circle cx="309.2" cy="487.46" r="1.75" fill="#fff" stroke="#333" stroke-width="0.8"/>
<circle cx="326.09" cy="480.05" r="1.75" fill="#fff" stroke="#333" stroke-width="0.8"/>
<circle cx="410.55" cy="467.68" r="1.75" fill="#fff" stroke="#333" stroke-width="0.8"/>
<circle cx="511.9" cy="425.65" r="1.75" fill="#fff" stroke="#333" stroke-width="0.8"/>
<text x="417.5" y="507.6" font-size="9.6" fill="#1a1a1a" stroke="#1a1a1a" stroke-width="0.2">p = 0.02</text>
</g>
<g>
<text x="7.6" y="552.8" font-size="17.2" font-weight="bold" fill="#000">G</text>
<text x="43.5" y="553.3" font-size="8.25" font-weight="bold" fill="#000" stroke="#000" stroke-width="0.2">Cardiac Index</text>
<text transform="translate(9.7,634.85) rotate(-90) scale(1,1.15)" text-anchor="middle" font-size="7.6" font-weight="bold" fill="#000" stroke="#000" stroke-width="0.12">L/kg/min</text>
<line x1="42.1" y1="561.2" x2="42.1" y2="708.9" stroke="#949494" stroke-width="1"/>
<line x1="41.6" y1="708.4" x2="253.5" y2="708.4" stroke="#949494" stroke-width="1"/>
<line x1="39.9" y1="561.2" x2="42.1" y2="561.2" stroke="#949494" stroke-width="1"/>
<text transform="translate(36.2,563.94) scale(1,1.11)" font-size="7.9" text-anchor="end" fill="#2a2a2a" stroke="#2a2a2a" stroke-width="0.25">0.30</text>
<line x1="39.9" y1="594.18" x2="42.1" y2="594.18" stroke="#949494" stroke-width="1"/>
<text transform="translate(36.2,596.91) scale(1,1.11)" font-size="7.9" text-anchor="end" fill="#2a2a2a" stroke="#2a2a2a" stroke-width="0.25">0.25</text>
<line x1="39.9" y1="627.15" x2="42.1" y2="627.15" stroke="#949494" stroke-width="1"/>
<text transform="translate(36.2,629.89) scale(1,1.11)" font-size="7.9" text-anchor="end" fill="#2a2a2a" stroke="#2a2a2a" stroke-width="0.25">0.20</text>
<line x1="39.9" y1="660.12" x2="42.1" y2="660.12" stroke="#949494" stroke-width="1"/>
<text transform="translate(36.2,662.86) scale(1,1.11)" font-size="7.9" text-anchor="end" fill="#2a2a2a" stroke="#2a2a2a" stroke-width="0.25">0.15</text>
<line x1="39.9" y1="693.1" x2="42.1" y2="693.1" stroke="#949494" stroke-width="1"/>
<text transform="translate(36.2,695.84) scale(1,1.11)" font-size="7.9" text-anchor="end" fill="#2a2a2a" stroke="#2a2a2a" stroke-width="0.25">0.10</text>
<text transform="translate(36.2,711.24) scale(1,1.11)" font-size="7.9" text-anchor="end" fill="#2a2a2a" stroke="#2a2a2a" stroke-width="0.25">0.00</text>
<line x1="50.5" y1="708.4" x2="50.5" y2="710.6" stroke="#949494" stroke-width="1"/>
<line x1="67.38" y1="708.4" x2="67.38" y2="710.6" stroke="#949494" stroke-width="1"/>
<line x1="151.75" y1="708.4" x2="151.75" y2="710.6" stroke="#949494" stroke-width="1"/>
<line x1="253" y1="708.4" x2="253" y2="710.6" stroke="#949494" stroke-width="1"/>
<text transform="translate(50.5,722.64) scale(1,1.11)" font-size="7.9" text-anchor="middle" fill="#2a2a2a" stroke="#2a2a2a" stroke-width="0.25">0</text>
<text transform="translate(67.38,722.64) scale(1,1.11)" font-size="7.9" text-anchor="middle" fill="#2a2a2a" stroke="#2a2a2a" stroke-width="0.25">4</text>
<text transform="translate(151.75,722.64) scale(1,1.11)" font-size="7.9" text-anchor="middle" fill="#2a2a2a" stroke="#2a2a2a" stroke-width="0.25">24</text>
<text transform="translate(253,722.64) scale(1,1.11)" font-size="7.9" text-anchor="middle" fill="#2a2a2a" stroke="#2a2a2a" stroke-width="0.25">48</text>
<polygon points="38.6,703.25 45.6,696.75 45.6,700.25 38.6,706.75" fill="#fff"/>
<line x1="38.6" y1="703.25" x2="45.6" y2="696.75" stroke="#555" stroke-width="0.9"/>
<line x1="38.6" y1="706.75" x2="45.6" y2="700.25" stroke="#555" stroke-width="0.9"/>
<line x1="50.5" y1="678.53" x2="50.5" y2="691.06" stroke="#7a7a7a" stroke-width="0.9"/>
<line x1="48.5" y1="678.53" x2="52.5" y2="678.53" stroke="#7a7a7a" stroke-width="0.9"/>
<line x1="48.5" y1="691.06" x2="52.5" y2="691.06" stroke="#7a7a7a" stroke-width="0.9"/>
<line x1="67.38" y1="657.09" x2="67.38" y2="672.39" stroke="#7a7a7a" stroke-width="0.9"/>
<line x1="65.38" y1="657.09" x2="69.38" y2="657.09" stroke="#7a7a7a" stroke-width="0.9"/>
<line x1="65.38" y1="672.39" x2="69.38" y2="672.39" stroke="#7a7a7a" stroke-width="0.9"/>
<line x1="151.75" y1="648.91" x2="151.75" y2="673.97" stroke="#7a7a7a" stroke-width="0.9"/>
<line x1="149.75" y1="648.91" x2="153.75" y2="648.91" stroke="#7a7a7a" stroke-width="0.9"/>
<line x1="149.75" y1="673.97" x2="153.75" y2="673.97" stroke="#7a7a7a" stroke-width="0.9"/>
<line x1="253" y1="595.82" x2="253" y2="660.45" stroke="#7a7a7a" stroke-width="0.9"/>
<line x1="251" y1="595.82" x2="255" y2="595.82" stroke="#7a7a7a" stroke-width="0.9"/>
<line x1="251" y1="660.45" x2="255" y2="660.45" stroke="#7a7a7a" stroke-width="0.9"/>
<line x1="50.5" y1="685.85" x2="50.5" y2="691.52" stroke="#7a7a7a" stroke-width="0.9"/>
<line x1="48.5" y1="685.85" x2="52.5" y2="685.85" stroke="#7a7a7a" stroke-width="0.9"/>
<line x1="48.5" y1="691.52" x2="52.5" y2="691.52" stroke="#7a7a7a" stroke-width="0.9"/>
<line x1="67.38" y1="669.62" x2="67.38" y2="680.17" stroke="#7a7a7a" stroke-width="0.9"/>
<line x1="65.38" y1="669.62" x2="69.38" y2="669.62" stroke="#7a7a7a" stroke-width="0.9"/>
<line x1="65.38" y1="680.17" x2="69.38" y2="680.17" stroke="#7a7a7a" stroke-width="0.9"/>
<line x1="151.75" y1="649.57" x2="151.75" y2="662.76" stroke="#7a7a7a" stroke-width="0.9"/>
<line x1="149.75" y1="649.57" x2="153.75" y2="649.57" stroke="#7a7a7a" stroke-width="0.9"/>
<line x1="149.75" y1="662.76" x2="153.75" y2="662.76" stroke="#7a7a7a" stroke-width="0.9"/>
<line x1="253" y1="656.56" x2="253" y2="671.07" stroke="#7a7a7a" stroke-width="0.9"/>
<line x1="251" y1="656.56" x2="255" y2="656.56" stroke="#7a7a7a" stroke-width="0.9"/>
<line x1="251" y1="671.07" x2="255" y2="671.07" stroke="#7a7a7a" stroke-width="0.9"/>
<polyline points="50.5,684.79 67.38,664.74 151.75,661.44 253,628.14" fill="none" stroke="#747474" stroke-width="1.2"/>
<circle cx="50.5" cy="684.79" r="1.9" fill="#000"/>
<circle cx="67.38" cy="664.74" r="1.9" fill="#000"/>
<circle cx="151.75" cy="661.44" r="1.9" fill="#000"/>
<circle cx="253" cy="628.14" r="1.9" fill="#000"/>
<polyline points="50.5,688.68 67.38,674.9 151.75,656.17 253,663.82" fill="none" stroke="#8c8c8c" stroke-width="1.15" stroke-dasharray="6.5,2.2"/>
<circle cx="50.5" cy="688.68" r="1.75" fill="#fff" stroke="#333" stroke-width="0.8"/>
<circle cx="67.38" cy="674.9" r="1.75" fill="#fff" stroke="#333" stroke-width="0.8"/>
<circle cx="151.75" cy="656.17" r="1.75" fill="#fff" stroke="#333" stroke-width="0.8"/>
<circle cx="253" cy="663.82" r="1.75" fill="#fff" stroke="#333" stroke-width="0.8"/>
</g>
<g>
<text x="268.2" y="553.4" font-size="17.2" font-weight="bold" fill="#000">H</text>
<text x="299.9" y="553.3" font-size="8.25" font-weight="bold" fill="#000" stroke="#000" stroke-width="0.2">Pulmonary Artery Occlusion Pressure</text>
<text transform="translate(277,635.75) rotate(-90) scale(1,1.15)" text-anchor="middle" font-size="7.6" font-weight="bold" fill="#000" stroke="#000" stroke-width="0.12">mmHg</text>
<line x1="302.2" y1="562.3" x2="302.2" y2="710" stroke="#949494" stroke-width="1"/>
<line x1="301.7" y1="709.5" x2="513" y2="709.5" stroke="#949494" stroke-width="1"/>
<line x1="300" y1="562.3" x2="302.2" y2="562.3" stroke="#949494" stroke-width="1"/>
<text transform="translate(296.3,565.04) scale(1,1.17)" font-size="7.5" text-anchor="end" fill="#2a2a2a" stroke="#2a2a2a" stroke-width="0.25">16</text>
<line x1="300" y1="591.52" x2="302.2" y2="591.52" stroke="#949494" stroke-width="1"/>
<text transform="translate(296.3,594.26) scale(1,1.17)" font-size="7.5" text-anchor="end" fill="#2a2a2a" stroke="#2a2a2a" stroke-width="0.25">14</text>
<line x1="300" y1="620.74" x2="302.2" y2="620.74" stroke="#949494" stroke-width="1"/>
<text transform="translate(296.3,623.48) scale(1,1.17)" font-size="7.5" text-anchor="end" fill="#2a2a2a" stroke="#2a2a2a" stroke-width="0.25">12</text>
<line x1="300" y1="649.96" x2="302.2" y2="649.96" stroke="#949494" stroke-width="1"/>
<text transform="translate(296.3,652.7) scale(1,1.17)" font-size="7.5" text-anchor="end" fill="#2a2a2a" stroke="#2a2a2a" stroke-width="0.25">10</text>
<line x1="300" y1="679.18" x2="302.2" y2="679.18" stroke="#949494" stroke-width="1"/>
<text transform="translate(296.3,681.92) scale(1,1.17)" font-size="7.5" text-anchor="end" fill="#2a2a2a" stroke="#2a2a2a" stroke-width="0.25">8</text>
<text transform="translate(296.3,712.34) scale(1,1.17)" font-size="7.5" text-anchor="end" fill="#2a2a2a" stroke="#2a2a2a" stroke-width="0.25">0</text>
<line x1="310.5" y1="709.5" x2="310.5" y2="711.7" stroke="#949494" stroke-width="1"/>
<line x1="327.33" y1="709.5" x2="327.33" y2="711.7" stroke="#949494" stroke-width="1"/>
<line x1="411.5" y1="709.5" x2="411.5" y2="711.7" stroke="#949494" stroke-width="1"/>
<line x1="512.5" y1="709.5" x2="512.5" y2="711.7" stroke="#949494" stroke-width="1"/>
<text transform="translate(310.5,723.74) scale(1,1.17)" font-size="7.5" text-anchor="middle" fill="#2a2a2a" stroke="#2a2a2a" stroke-width="0.25">0</text>
<text transform="translate(327.33,723.74) scale(1,1.17)" font-size="7.5" text-anchor="middle" fill="#2a2a2a" stroke="#2a2a2a" stroke-width="0.25">4</text>
<text transform="translate(411.5,723.74) scale(1,1.17)" font-size="7.5" text-anchor="middle" fill="#2a2a2a" stroke="#2a2a2a" stroke-width="0.25">24</text>
<text transform="translate(512.5,723.74) scale(1,1.17)" font-size="7.5" text-anchor="middle" fill="#2a2a2a" stroke="#2a2a2a" stroke-width="0.25">48</text>
<polygon points="298.7,704.35 305.7,697.85 305.7,701.35 298.7,707.85" fill="#fff"/>
<line x1="298.7" y1="704.35" x2="305.7" y2="697.85" stroke="#555" stroke-width="0.9"/>
<line x1="298.7" y1="707.85" x2="305.7" y2="701.35" stroke="#555" stroke-width="0.9"/>
<line x1="310.5" y1="647.91" x2="310.5" y2="660.77" stroke="#7a7a7a" stroke-width="0.9"/>
<line x1="308.5" y1="647.91" x2="312.5" y2="647.91" stroke="#7a7a7a" stroke-width="0.9"/>
<line x1="308.5" y1="660.77" x2="312.5" y2="660.77" stroke="#7a7a7a" stroke-width="0.9"/>
<line x1="327.33" y1="680.2" x2="327.33" y2="691.89" stroke="#7a7a7a" stroke-width="0.9"/>
<line x1="325.33" y1="680.2" x2="329.33" y2="680.2" stroke="#7a7a7a" stroke-width="0.9"/>
<line x1="325.33" y1="691.89" x2="329.33" y2="691.89" stroke="#7a7a7a" stroke-width="0.9"/>
<line x1="411.5" y1="656.83" x2="411.5" y2="671.44" stroke="#7a7a7a" stroke-width="0.9"/>
<line x1="409.5" y1="656.83" x2="413.5" y2="656.83" stroke="#7a7a7a" stroke-width="0.9"/>
<line x1="409.5" y1="671.44" x2="413.5" y2="671.44" stroke="#7a7a7a" stroke-width="0.9"/>
<line x1="512.5" y1="594.59" x2="512.5" y2="639.88" stroke="#7a7a7a" stroke-width="0.9"/>
<line x1="510.5" y1="594.59" x2="514.5" y2="594.59" stroke="#7a7a7a" stroke-width="0.9"/>
<line x1="510.5" y1="639.88" x2="514.5" y2="639.88" stroke="#7a7a7a" stroke-width="0.9"/>
<line x1="310.5" y1="648.21" x2="310.5" y2="665.45" stroke="#7a7a7a" stroke-width="0.9"/>
<line x1="308.5" y1="648.21" x2="312.5" y2="648.21" stroke="#7a7a7a" stroke-width="0.9"/>
<line x1="308.5" y1="665.45" x2="312.5" y2="665.45" stroke="#7a7a7a" stroke-width="0.9"/>
<line x1="327.33" y1="675.24" x2="327.33" y2="688.97" stroke="#7a7a7a" stroke-width="0.9"/>
<line x1="325.33" y1="675.24" x2="329.33" y2="675.24" stroke="#7a7a7a" stroke-width="0.9"/>
<line x1="325.33" y1="688.97" x2="329.33" y2="688.97" stroke="#7a7a7a" stroke-width="0.9"/>
<line x1="411.5" y1="661.06" x2="411.5" y2="674.8" stroke="#7a7a7a" stroke-width="0.9"/>
<line x1="409.5" y1="661.06" x2="413.5" y2="661.06" stroke="#7a7a7a" stroke-width="0.9"/>
<line x1="409.5" y1="674.8" x2="413.5" y2="674.8" stroke="#7a7a7a" stroke-width="0.9"/>
<line x1="512.5" y1="634.62" x2="512.5" y2="648.35" stroke="#7a7a7a" stroke-width="0.9"/>
<line x1="510.5" y1="634.62" x2="514.5" y2="634.62" stroke="#7a7a7a" stroke-width="0.9"/>
<line x1="510.5" y1="648.35" x2="514.5" y2="648.35" stroke="#7a7a7a" stroke-width="0.9"/>
<polyline points="310.5,654.34 327.33,686.05 411.5,664.13 512.5,617.23" fill="none" stroke="#747474" stroke-width="1.2"/>
<circle cx="310.5" cy="654.34" r="1.9" fill="#000"/>
<circle cx="327.33" cy="686.05" r="1.9" fill="#000"/>
<circle cx="411.5" cy="664.13" r="1.9" fill="#000"/>
<circle cx="512.5" cy="617.23" r="1.9" fill="#000"/>
<polyline points="310.5,656.83 327.33,682.1 411.5,667.93 512.5,641.49" fill="none" stroke="#8c8c8c" stroke-width="1.15" stroke-dasharray="6.5,2.2"/>
<circle cx="310.5" cy="656.83" r="1.75" fill="#fff" stroke="#333" stroke-width="0.8"/>
<circle cx="327.33" cy="682.1" r="1.75" fill="#fff" stroke="#333" stroke-width="0.8"/>
<circle cx="411.5" cy="667.93" r="1.75" fill="#fff" stroke="#333" stroke-width="0.8"/>
<circle cx="512.5" cy="641.49" r="1.75" fill="#fff" stroke="#333" stroke-width="0.8"/>
</g>
<text transform="translate(271.3,75.4) rotate(-90)" text-anchor="middle" font-size="4.6" font-weight="bold" fill="#000">-5</text>
<text x="185.2" y="740.6" font-size="8.8" fill="#1a1a1a">Time (h) before and after <tspan font-style="italic">S. Aureus</tspan> challenge</text>
</svg>
</body></html>
